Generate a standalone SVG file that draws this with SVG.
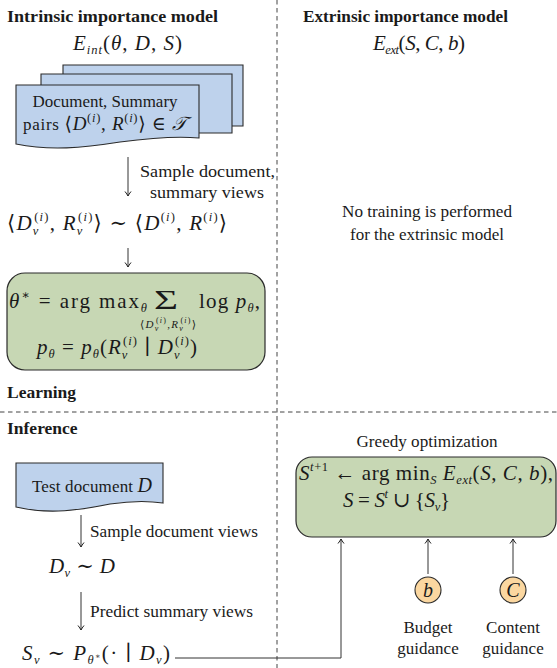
<svg xmlns="http://www.w3.org/2000/svg" width="557" height="668" viewBox="0 0 557 668">
<defs>
<style>
.t{font-family:"Liberation Serif","DejaVu Serif",serif;font-size:17px;fill:#1a1a1a}
.bold{font-weight:bold;font-size:17.5px}
.m{font-family:"Liberation Serif","DejaVu Serif",serif;font-size:21px;fill:#1a1a1a}
.i{font-style:italic}
.s{font-size:12.5px}
.xs{font-size:8px}
.ln{fill:none;stroke:#333;stroke-width:1}
.dash{fill:none;stroke:#444;stroke-width:1;stroke-dasharray:4.5 3.5}
.doc{fill:#bed2ec;stroke:#2b2b2b;stroke-width:1.1}
.gbox{fill:#c7d7b4;stroke:#2b2b2b;stroke-width:1.2}
.circ{fill:#fbd7a0;stroke:#2b2b2b;stroke-width:1.1}
</style>
<marker id="arr" viewBox="-6 -4 8 8" refX="0" refY="0" markerWidth="8" markerHeight="8" markerUnits="userSpaceOnUse" orient="auto">
<path d="M-4.5,-3 Q-1.8,-0.9 0,0 Q-1.8,0.9 -4.5,3" fill="none" stroke="#222" stroke-width="1"/>
</marker>
</defs>

<g id="separators">
<line class="dash" x1="277" y1="0" x2="277" y2="668"/>
<line class="dash" x1="0" y1="412" x2="557" y2="412"/>
</g>

<g id="headings">
<text class="t bold" x="7" y="22" textLength="211" lengthAdjust="spacingAndGlyphs">Intrinsic importance model</text>
<text class="m" x="127.5" y="50" text-anchor="middle" textLength="109" lengthAdjust="spacing"><tspan class="i">E</tspan><tspan class="s i" dy="4">int</tspan><tspan dy="-4">(</tspan><tspan class="i">θ</tspan>, <tspan class="i">D</tspan>, <tspan class="i">S</tspan>)</text>
<text class="t bold" x="303" y="22" textLength="205" lengthAdjust="spacingAndGlyphs">Extrinsic importance model</text>
<text class="m" x="419" y="50" text-anchor="middle" textLength="92" lengthAdjust="spacing"><tspan class="i">E</tspan><tspan class="s i" dy="4">ext</tspan><tspan dy="-4">(</tspan><tspan class="i">S</tspan>, <tspan class="i">C</tspan>, <tspan class="i">b</tspan>)</text>
<text class="t" x="427" y="217" text-anchor="middle" textLength="170" lengthAdjust="spacingAndGlyphs">No training is performed</text>
<text class="t" x="427" y="240" text-anchor="middle" textLength="154" lengthAdjust="spacingAndGlyphs">for the extrinsic model</text>
<text class="t bold" x="7" y="398">Learning</text>
<text class="t bold" x="7" y="434">Inference</text>
</g>

<g id="connectors">
<line class="ln" x1="128" y1="157" x2="128" y2="196" marker-end="url(#arr)"/>
<line class="ln" x1="128" y1="248" x2="128" y2="267" marker-end="url(#arr)"/>
<line class="ln" x1="81" y1="515" x2="81" y2="547" marker-end="url(#arr)"/>
<line class="ln" x1="81" y1="592" x2="81" y2="630" marker-end="url(#arr)"/>
<polyline class="ln" points="175,658 341,658 341,539" marker-end="url(#arr)"/>
<line class="ln" x1="428" y1="574" x2="428" y2="539" marker-end="url(#arr)"/>
<line class="ln" x1="513" y1="574" x2="513" y2="539" marker-end="url(#arr)"/>
</g>

<g id="training-docs">
<path class="doc" d="M63,65 H243 V126 H63 Z"/>
<path class="doc" d="M41,74 H232 V133 H41 Z"/>
<path class="doc" d="M16,85 H199 V138 C178,136 150,138 120,142 C82,148 50,151 16,144 Z"/>
<text class="t" x="105" y="107" text-anchor="middle" textLength="145" lengthAdjust="spacingAndGlyphs">Document, Summary</text>
<text class="t" x="105" y="130" text-anchor="middle" textLength="164" lengthAdjust="spacing">pairs <tspan style="font-size:19px">⟨<tspan class="i">D</tspan><tspan style="font-size:12.5px" dy="-8">(<tspan class="i">i</tspan>)</tspan><tspan dy="8">, </tspan><tspan class="i">R</tspan><tspan style="font-size:12.5px" dy="-8">(<tspan class="i">i</tspan>)</tspan><tspan dy="8">⟩ ∈ </tspan><tspan class="i">𝒯</tspan></tspan></text>
</g>

<g id="sample-label">
<text class="t" x="140" y="177" textLength="135" lengthAdjust="spacingAndGlyphs">Sample document,</text>
<text class="t" x="150" y="198" textLength="114" lengthAdjust="spacingAndGlyphs">summary views</text>
</g>

<g id="views">
<text class="m" x="7" y="230" textLength="220" lengthAdjust="spacing">⟨<tspan class="i">D</tspan><tspan class="s i" dy="5">v</tspan><tspan class="s" dx="-5.5" dy="-14">(<tspan class="i">i</tspan>)</tspan><tspan dy="9">, </tspan><tspan class="i">R</tspan><tspan class="s i" dy="5">v</tspan><tspan class="s" dx="-5.5" dy="-14">(<tspan class="i">i</tspan>)</tspan><tspan dy="9">⟩ ∼ ⟨</tspan><tspan class="i">D</tspan><tspan class="s" dy="-9">(<tspan class="i">i</tspan>)</tspan><tspan dy="9">, </tspan><tspan class="i">R</tspan><tspan class="s" dy="-9">(<tspan class="i">i</tspan>)</tspan><tspan dy="9">⟩</tspan></text>
</g>

<g id="learning-objective">
<rect class="gbox" x="7" y="273" width="258" height="97" rx="18"/>
<text class="m" x="9" y="308" textLength="138" lengthAdjust="spacing"><tspan class="i">θ</tspan><tspan class="s" dy="-9">∗</tspan><tspan dy="9"> = arg max</tspan><tspan class="s i" dy="4">θ</tspan></text>
<text class="m" x="154" y="309" style="font-size:28px" textLength="24" lengthAdjust="spacingAndGlyphs">Σ</text>
<text class="m" x="168" y="328" text-anchor="middle" style="font-size:11px" textLength="56" lengthAdjust="spacing">⟨<tspan class="i">D</tspan><tspan class="xs i" dy="2.5">v</tspan><tspan class="xs" dx="-3.6" dy="-7.5">(<tspan class="i">i</tspan>)</tspan><tspan dy="5">,</tspan><tspan class="i">R</tspan><tspan class="xs i" dy="2.5">v</tspan><tspan class="xs" dx="-3.6" dy="-7.5">(<tspan class="i">i</tspan>)</tspan><tspan dy="5">⟩</tspan></text>
<text class="m" x="199" y="308" textLength="61" lengthAdjust="spacing">log <tspan class="i">p</tspan><tspan class="s i" dy="4">θ</tspan><tspan dy="-4">,</tspan></text>
<text class="m" x="37" y="354" textLength="160" lengthAdjust="spacing"><tspan class="i">p</tspan><tspan class="s i" dy="4">θ</tspan><tspan dy="-4"> = </tspan><tspan class="i">p</tspan><tspan class="s i" dy="4">θ</tspan><tspan dy="-4">(</tspan><tspan class="i">R</tspan><tspan class="s i" dy="5">v</tspan><tspan class="s" dx="-5.5" dy="-14">(<tspan class="i">i</tspan>)</tspan><tspan dy="9"> ∣ </tspan><tspan class="i">D</tspan><tspan class="s i" dy="5">v</tspan><tspan class="s" dx="-5.5" dy="-14">(<tspan class="i">i</tspan>)</tspan><tspan dy="9">)</tspan></text>
</g>

<g id="test-doc">
<path class="doc" d="M16,463 H163 V503 C150,501 130,501 110,504 C80,510 50,515 16,507 Z"/>
<text class="t" x="92" y="492" text-anchor="middle" textLength="120" lengthAdjust="spacing">Test document <tspan class="i" style="font-size:20px">D</tspan></text>
</g>

<g id="inference-labels">
<text class="t" x="90" y="537" textLength="168" lengthAdjust="spacingAndGlyphs">Sample document views</text>
<text class="t" x="90" y="617" textLength="163" lengthAdjust="spacingAndGlyphs">Predict summary views</text>
</g>

<g id="doc-views">
<text class="m" x="49" y="573" textLength="66" lengthAdjust="spacing"><tspan class="i">D</tspan><tspan class="s i" dy="4">v</tspan><tspan dy="-4"> ∼ </tspan><tspan class="i">D</tspan></text>
</g>

<g id="summary-views">
<text class="m" x="22" y="660" textLength="148" lengthAdjust="spacing"><tspan class="i">S</tspan><tspan class="s i" dy="4">v</tspan><tspan dy="-4"> ∼ </tspan><tspan class="i">P</tspan><tspan class="s i" dy="4">θ</tspan><tspan class="xs" dy="-5">∗</tspan><tspan dy="1">(· ∣ </tspan><tspan class="i">D</tspan><tspan class="s i" dy="4">v</tspan><tspan dy="-4">)</tspan></text>
</g>

<g id="greedy">
<text class="t" x="427" y="447" text-anchor="middle" textLength="141" lengthAdjust="spacingAndGlyphs">Greedy optimization</text>
<rect class="gbox" x="296" y="457" width="260" height="80" rx="16"/>
<text class="m" x="299" y="480" textLength="254" lengthAdjust="spacing"><tspan class="i">S</tspan><tspan class="s" dy="-9"><tspan class="i">t</tspan>+1</tspan><tspan dy="9"> ← arg min</tspan><tspan class="s i" dy="4">S</tspan><tspan dy="-4"> </tspan><tspan class="i">E</tspan><tspan class="s i" dy="4">ext</tspan><tspan dy="-4">(</tspan><tspan class="i">S</tspan>, <tspan class="i">C</tspan>, <tspan class="i">b</tspan>),</text>
<text class="m" x="343" y="507" textLength="107" lengthAdjust="spacing"><tspan class="i">S</tspan> = <tspan class="i">S</tspan><tspan class="s i" dy="-9">t</tspan><tspan dy="9"> ∪ {</tspan><tspan class="i">S</tspan><tspan class="s i" dy="4">v</tspan><tspan dy="-4">}</tspan></text>
</g>

<g id="budget">
<circle class="circ" cx="428" cy="590" r="13"/>
<text class="m i" x="428" y="597" text-anchor="middle" style="font-size:20px">b</text>
<text class="t" x="428" y="633" text-anchor="middle">Budget</text>
<text class="t" x="428" y="654" text-anchor="middle">guidance</text>
</g>

<g id="content">
<circle class="circ" cx="513" cy="590" r="13"/>
<text class="m i" x="513" y="597" text-anchor="middle" style="font-size:20px">C</text>
<text class="t" x="513" y="633" text-anchor="middle">Content</text>
<text class="t" x="513" y="654" text-anchor="middle">guidance</text>
</g>
</svg>
